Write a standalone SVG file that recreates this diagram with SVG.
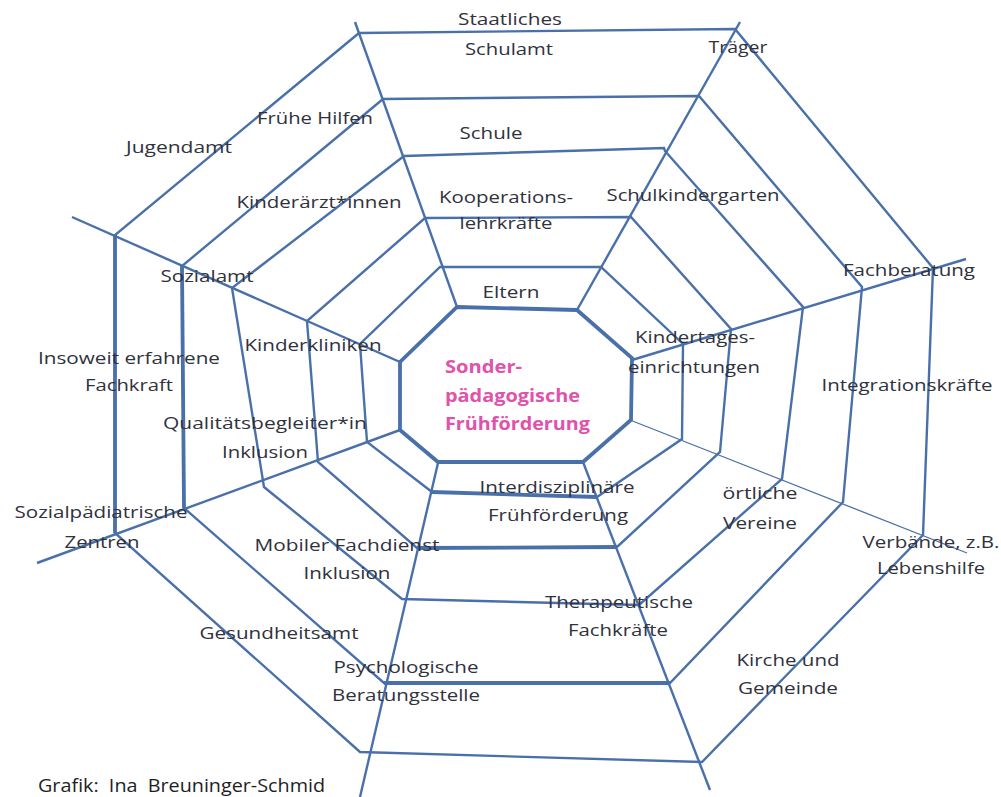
<svg xmlns="http://www.w3.org/2000/svg" width="1001" height="797" viewBox="0 0 1001 797">
  <style>
    .web { fill: none; stroke: #4a70aa; stroke-width: 2.4; stroke-linejoin: miter; stroke-linecap: butt; }
    .thick { fill: none; stroke: #4a70aa; stroke-width: 3.8; stroke-linecap: butt; }
    .thin { fill: none; stroke: #4a70aa; stroke-width: 1.3; }
    .lbl { font-family: "Open Sans", "Liberation Sans", sans-serif; font-size: 17px; fill: #30323c; text-anchor: middle; }
    .core { font-family: "Open Sans", "Liberation Sans", sans-serif; font-size: 17px; font-weight: bold; fill: #e052ab; }
    .credit { font-family: "Open Sans", "Liberation Sans", sans-serif; font-size: 19px; fill: #1e1e1e; white-space: pre; }
  </style>
  <rect width="1001" height="797" fill="#ffffff"/>

  <!-- spider web: spokes and rings -->
  <g id="web">
    <g id="spokes">
      <line class="web" x1="355" y1="22" x2="457" y2="307"/>
      <line class="web" x1="740" y1="22" x2="577" y2="310"/>
      <line class="web" x1="632" y1="360" x2="966" y2="259"/>
      <line class="thin" x1="630" y1="420" x2="967" y2="553"/>
      <line class="web" x1="583" y1="462" x2="710" y2="790"/>
      <line class="web" x1="438" y1="463" x2="360" y2="797"/>
      <line class="web" x1="400" y1="430" x2="37" y2="563"/>
      <line class="web" x1="400" y1="362" x2="72" y2="217"/>
    </g>
    <g id="rings">
      <polygon id="ring1" class="thick" points="457,307 577,310 632,358 631,420 583,462 438,462 400,430 400,362"/>
      <polygon id="ring2" class="web" points="440,267 601,267 683,344 682,439 597,497 432,492 367,442 360,344"/>
      <polygon id="ring3" class="web" points="425,218 631,217 731,329 720,452 617,547 417,548 318,462 307,321"/>
      <polygon id="ring4" class="web" points="404,156 664,148 665,151 803,307 782,479 639,605 402,599 264,487 232,288"/>
      <polygon id="ring5" class="web" points="383,99 699,96 862,287 843,502 670,683 384,683 184,508 182,266"/>
      <polygon id="ring6" class="web" points="359,33 735,29 933,268 923,535 702,762 360,752 115,533 115,235"/>
    </g>
    <g id="accents">
      <line class="thick" x1="432" y1="492" x2="597" y2="497"/>
      <line class="thick" x1="417" y1="548" x2="617" y2="547"/>
      <line class="thick" x1="384" y1="683" x2="670" y2="683"/>
      <line class="thick" x1="182" y1="266" x2="184" y2="508"/>
      <line class="thick" x1="115" y1="235" x2="115" y2="533"/>
    </g>
  </g>

  <!-- centre -->
  <g id="n-center">
    <text class="core" x="445" y="373" textLength="77" lengthAdjust="spacingAndGlyphs">Sonder-</text>
    <text class="core" x="445" y="402" textLength="135" lengthAdjust="spacingAndGlyphs">pädagogische</text>
    <text class="core" x="445" y="430" textLength="145" lengthAdjust="spacingAndGlyphs">Frühförderung</text>
  </g>

  <!-- partners -->
  <g id="n-schulamt">
    <text class="lbl" x="510" y="25" textLength="104" lengthAdjust="spacingAndGlyphs">Staatliches</text>
    <text class="lbl" x="509" y="55" textLength="88" lengthAdjust="spacingAndGlyphs">Schulamt</text>
  </g>
  <g id="n-traeger"><text class="lbl" x="738" y="53" textLength="59" lengthAdjust="spacingAndGlyphs">Träger</text></g>
  <g id="n-fruehe-hilfen"><text class="lbl" x="315" y="124" textLength="116" lengthAdjust="spacingAndGlyphs">Frühe Hilfen</text></g>
  <g id="n-jugendamt"><text class="lbl" x="179" y="153" textLength="106" lengthAdjust="spacingAndGlyphs">Jugendamt</text></g>
  <g id="n-schule"><text class="lbl" x="491" y="139" textLength="63" lengthAdjust="spacingAndGlyphs">Schule</text></g>
  <g id="n-kinderaerzte"><text class="lbl" x="319" y="208" textLength="165" lengthAdjust="spacingAndGlyphs">Kinderärzt*innen</text></g>
  <g id="n-kooperation">
    <text class="lbl" x="506" y="203" textLength="134" lengthAdjust="spacingAndGlyphs">Kooperations-</text>
    <text class="lbl" x="506" y="229" textLength="93" lengthAdjust="spacingAndGlyphs">lehrkräfte</text>
  </g>
  <g id="n-schulkindergarten"><text class="lbl" x="693" y="201" textLength="173" lengthAdjust="spacingAndGlyphs">Schulkindergarten</text></g>
  <g id="n-eltern"><text class="lbl" x="511" y="298" textLength="57" lengthAdjust="spacingAndGlyphs">Eltern</text></g>
  <g id="n-sozialamt"><text class="lbl" x="207" y="282" textLength="93" lengthAdjust="spacingAndGlyphs">Sozialamt</text></g>
  <g id="n-fachberatung"><text class="lbl" x="909" y="276" textLength="132" lengthAdjust="spacingAndGlyphs">Fachberatung</text></g>
  <g id="n-kinderkliniken"><text class="lbl" x="313" y="351" textLength="137" lengthAdjust="spacingAndGlyphs">Kinderkliniken</text></g>
  <g id="n-kita">
    <text class="lbl" x="695" y="343" textLength="120" lengthAdjust="spacingAndGlyphs">Kindertages-</text>
    <text class="lbl" x="694" y="373" textLength="132" lengthAdjust="spacingAndGlyphs">einrichtungen</text>
  </g>
  <g id="n-insoweit">
    <text class="lbl" x="129" y="364" textLength="182" lengthAdjust="spacingAndGlyphs">Insoweit erfahrene</text>
    <text class="lbl" x="129" y="391" textLength="88" lengthAdjust="spacingAndGlyphs">Fachkraft</text>
  </g>
  <g id="n-integration"><text class="lbl" x="907" y="391" textLength="171" lengthAdjust="spacingAndGlyphs">Integrationskräfte</text></g>
  <g id="n-qualitaet">
    <text class="lbl" x="265" y="429" textLength="204" lengthAdjust="spacingAndGlyphs">Qualitätsbegleiter*in</text>
    <text class="lbl" x="265" y="458" textLength="86" lengthAdjust="spacingAndGlyphs">Inklusion</text>
  </g>
  <g id="n-interdisziplinaer">
    <text class="lbl" x="557" y="493" textLength="155" lengthAdjust="spacingAndGlyphs">Interdisziplinäre</text>
    <text class="lbl" x="558" y="521" textLength="140" lengthAdjust="spacingAndGlyphs">Frühförderung</text>
  </g>
  <g id="n-vereine">
    <text class="lbl" x="760" y="499" textLength="75" lengthAdjust="spacingAndGlyphs">örtliche</text>
    <text class="lbl" x="760" y="529" textLength="74" lengthAdjust="spacingAndGlyphs">Vereine</text>
  </g>
  <g id="n-spz">
    <text class="lbl" x="101" y="518" textLength="173" lengthAdjust="spacingAndGlyphs">Sozialpädiatrische</text>
    <text class="lbl" x="102" y="548" textLength="75" lengthAdjust="spacingAndGlyphs">Zentren</text>
  </g>
  <g id="n-mobiler-fachdienst">
    <text class="lbl" x="347" y="551" textLength="185" lengthAdjust="spacingAndGlyphs">Mobiler Fachdienst</text>
    <text class="lbl" x="347" y="579" textLength="87" lengthAdjust="spacingAndGlyphs">Inklusion</text>
  </g>
  <g id="n-verbaende">
    <text class="lbl" x="931" y="548" textLength="137" lengthAdjust="spacingAndGlyphs">Verbände, z.B.</text>
    <text class="lbl" x="931" y="574" textLength="108" lengthAdjust="spacingAndGlyphs">Lebenshilfe</text>
  </g>
  <g id="n-therapeuten">
    <text class="lbl" x="619" y="608" textLength="148" lengthAdjust="spacingAndGlyphs">Therapeutische</text>
    <text class="lbl" x="618" y="636" textLength="100" lengthAdjust="spacingAndGlyphs">Fachkräfte</text>
  </g>
  <g id="n-gesundheitsamt"><text class="lbl" x="279" y="639" textLength="159" lengthAdjust="spacingAndGlyphs">Gesundheitsamt</text></g>
  <g id="n-beratungsstelle">
    <text class="lbl" x="406" y="673" textLength="145" lengthAdjust="spacingAndGlyphs">Psychologische</text>
    <text class="lbl" x="406" y="701" textLength="148" lengthAdjust="spacingAndGlyphs">Beratungsstelle</text>
  </g>
  <g id="n-kirche">
    <text class="lbl" x="788" y="666" textLength="103" lengthAdjust="spacingAndGlyphs">Kirche und</text>
    <text class="lbl" x="788" y="694" textLength="100" lengthAdjust="spacingAndGlyphs">Gemeinde</text>
  </g>

  <g id="credit">
    <text class="credit" x="38" y="792" textLength="287" lengthAdjust="spacingAndGlyphs" xml:space="preserve">Grafik:  Ina  Breuninger-Schmid</text>
  </g>
</svg>
